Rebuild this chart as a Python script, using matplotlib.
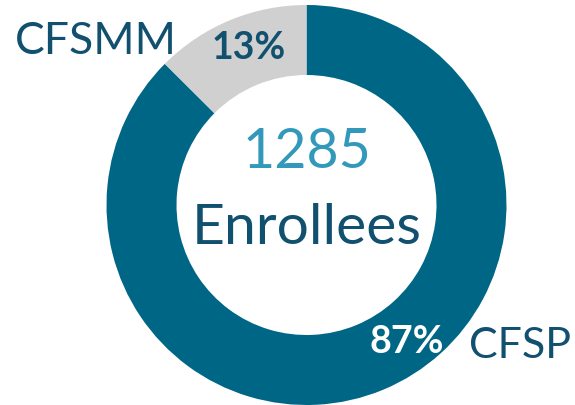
import numpy as np
from matplotlib import pyplot as plt

labels = ['CFSP', 'CFSMM']
counts = [1124, 161]
pct_text = ['87%', '13%']
total = 1285
colors = ['#006685', '#d0d0d0']

plt.rcParams['font.family'] = ['Lato', 'DejaVu Sans']

fig = plt.figure(figsize=(5.75, 4.05), dpi=100)
ax = fig.add_axes([0, 0, 1, 1])

# donut, pixel-ish coords (y up)
ax.pie(counts, colors=colors, startangle=90, counterclock=False,
       center=(306.5, 200), radius=200, frame=True,
       wedgeprops=dict(width=70, linewidth=0))
ax.set_xlim(0, 575)
ax.set_ylim(0, 405)
ax.set_aspect('equal')
ax.axis('off')

dark = '#11506f'
ax.text(15, 405 - 42, labels[1], fontsize=32, color=dark, ha='left', va='center')
ax.text(249, 405 - 48, pct_text[1], fontsize=27, color=dark, fontweight='bold',
        ha='center', va='center')
ax.text(407, 405 - 342, pct_text[0], fontsize=27, color='white', fontweight='bold',
        ha='center', va='center')
ax.text(469, 405 - 346, labels[0], fontsize=31, color=dark, ha='left', va='center')
ax.text(307, 405 - 152, str(total), fontsize=40, color='#3399bb',
        ha='center', va='center')
ax.text(307, 405 - 228, 'Enrollees', fontsize=41, color=dark,
        ha='center', va='center')

fig.savefig('out.png', dpi=100)
